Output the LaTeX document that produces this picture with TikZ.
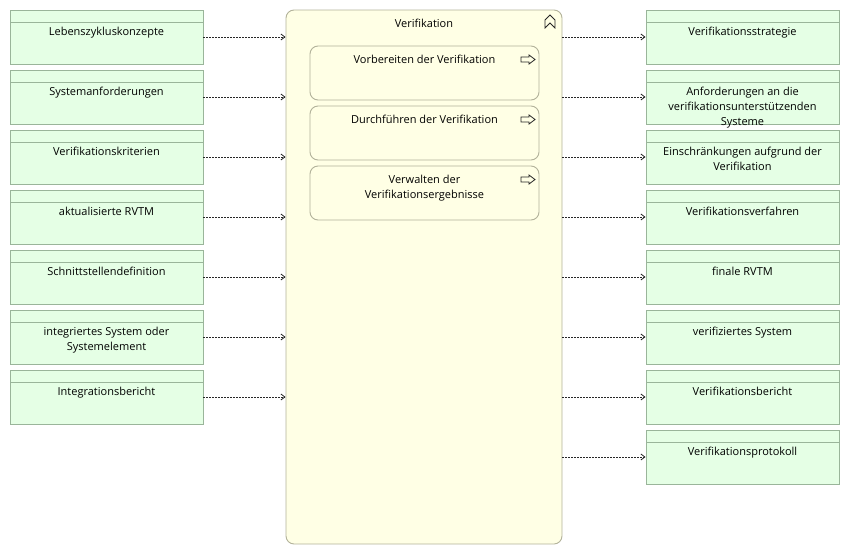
\documentclass[tikz,border=0pt]{standalone}
\usepackage{fontspec}
\setmainfont{Open Sans}
\usetikzlibrary{arrows.meta, positioning}
\definecolor{artfill}{HTML}{E5FFE5}
\definecolor{artline}{HTML}{9AB59A}
\definecolor{actfill}{HTML}{FFFFE5}
\definecolor{actline}{HTML}{B2B29A}
\begin{document}
\begin{tikzpicture}[x=1pt, y=-1pt,
  artefact/.style={draw=artline, line width=0.9pt, fill=artfill, minimum width=193pt, minimum height=54pt, inner sep=0pt,
    path picture={\draw[artline, line width=0.9pt] ([yshift=-12pt]path picture bounding box.north west) -- ([yshift=-12pt]path picture bounding box.north east);}},
  arttext/.style={anchor=north, align=center, inner sep=0pt, font=\fontsize{11}{15}\selectfont},
  activity/.style={draw=actline, line width=0.9pt, fill=actfill, rounded corners=8pt, inner sep=0pt},
  flow/.style={black!85, line width=0.8pt, dash pattern=on 2pt off 1pt, -{Straight Barb[length=4pt, width=6pt]}},
  icon/.style={black!85, line width=0.8pt}
]
\useasboundingbox (0,0) rectangle (849,555);
% main activity
\node[activity, minimum width=276pt, minimum height=534pt] (verif) at (424,277) {};
\node[arttext] (verif-t) at ([yshift=-9pt]verif.north) {Verifikation};
\draw[icon] (545,28) -- (545,20) -- (550,15) -- (555,20) -- (555,28) -- (550,23) -- cycle;
% sub activities
\foreach \t [count=\i] in {Vorbereiten der Verifikation, Durchführen der Verifikation, {Verwalten der\\Verifikationsergebnisse}} {
  \node[activity, minimum width=229pt, minimum height=54pt] (sub\i) at (424.5,{73+60*(\i-1)}) {};
  \node[arttext] (sub\i-t) at ([yshift=-9pt]sub\i.north) {\t};
  \draw[icon, shift={(0,{60*(\i-1)})}] (521,57) -- (529,57) -- (529,55) -- (535,59.5) -- (529,64) -- (529,62) -- (521,62) -- cycle;
}
% inputs
\foreach \t [count=\i] in {Lebenszykluskonzepte, Systemanforderungen, Verifikationskriterien, aktualisierte RVTM, Schnittstellendefinition, {integriertes System oder\\Systemelement}, Integrationsbericht} {
  \node[artefact] (in\i) at (106.5,{37+60*(\i-1)}) {};
  \node[arttext] (in\i-t) at ([yshift=-17pt]in\i.north) {\t};
  \draw[flow] (in\i.east) -- (in\i.east -| verif.west);
}
% outputs
\foreach \t [count=\i] in {Verifikationsstrategie, {Anforderungen an die\\verifikationsunterstützenden\\Systeme}, {Einschränkungen aufgrund der\\Verifikation}, Verifikationsverfahren, finale RVTM, verifiziertes System, Verifikationsbericht, Verifikationsprotokoll} {
  \node[artefact] (out\i) at (742.5,{37+60*(\i-1)}) {};
  \node[arttext] (out\i-t) at ([yshift=-17pt]out\i.north) {\t};
  \draw[flow] (out\i.west -| verif.east) -- (out\i.west);
}
\end{tikzpicture}
\end{document}
